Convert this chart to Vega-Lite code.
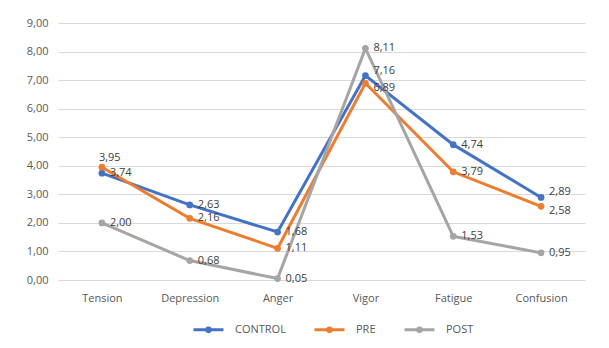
{
  "$schema": "https://vega.github.io/schema/vega-lite/v6.json",
  "width": 527,
  "height": 257,
  "autosize": {"type": "none"},
  "padding": {"left": 58, "top": 23, "right": 24, "bottom": 68},
  "background": "white",
  "config": {
    "font": "Open Sans",
    "view": {"stroke": null},
    "axis": {"labelColor": "#595959", "labelFontSize": 11, "titleColor": "#595959"}
  },
  "data": {
    "values": [
      {"cat": "Tension", "series": "CONTROL", "value": 3.74},
      {"cat": "Depression", "series": "CONTROL", "value": 2.63},
      {"cat": "Anger", "series": "CONTROL", "value": 1.68},
      {"cat": "Vigor", "series": "CONTROL", "value": 7.16},
      {"cat": "Fatigue", "series": "CONTROL", "value": 4.74},
      {"cat": "Confusion", "series": "CONTROL", "value": 2.89},
      {"cat": "Tension", "series": "PRE", "value": 3.95},
      {"cat": "Depression", "series": "PRE", "value": 2.16},
      {"cat": "Anger", "series": "PRE", "value": 1.11},
      {"cat": "Vigor", "series": "PRE", "value": 6.89},
      {"cat": "Fatigue", "series": "PRE", "value": 3.79},
      {"cat": "Confusion", "series": "PRE", "value": 2.58},
      {"cat": "Tension", "series": "POST", "value": 2.00},
      {"cat": "Depression", "series": "POST", "value": 0.68},
      {"cat": "Anger", "series": "POST", "value": 0.05},
      {"cat": "Vigor", "series": "POST", "value": 8.11},
      {"cat": "Fatigue", "series": "POST", "value": 1.53},
      {"cat": "Confusion", "series": "POST", "value": 0.95}
    ]
  },
  "transform": [
    {"calculate": "replace(format(datum.value, '.2f'), '.', ',')", "as": "label"}
  ],
  "encoding": {
    "x": {
      "field": "cat", "type": "nominal",
      "sort": ["Tension", "Depression", "Anger", "Vigor", "Fatigue", "Confusion"],
      "scale": {"type": "point", "padding": 0.5},
      "axis": {"title": null, "labelAngle": 0, "ticks": false, "domain": false, "labelPadding": 12, "grid": false}
    },
    "y": {
      "field": "value", "type": "quantitative",
      "scale": {"domain": [0, 9], "nice": false},
      "axis": {"title": null, "values": [0,1,2,3,4,5,6,7,8,9], "ticks": false, "domain": false,
        "gridColor": "#D9D9D9", "labelPadding": 10, "labelOverlap": false, "labelFlush": false,
        "labelExpr": "replace(format(datum.value, '.2f'), '.', ',')"}
    },
    "color": {
      "field": "series", "type": "nominal",
      "scale": {"domain": ["CONTROL", "PRE", "POST"], "range": ["#4472C4", "#ED7D31", "#A5A5A5"]},
      "legend": {
        "title": null, "orient": "none", "legendX": 134, "legendY": 290, "direction": "horizontal",
        "labelColor": "#595959", "labelFontSize": 11, "columnPadding": 22, "labelOffset": 10,
        "symbolType": "M -1 0 L 1 0 M 0.12 0 A 0.12 0.12 0 1 1 -0.12 0 A 0.12 0.12 0 1 1 0.12 0 Z",
        "symbolSize": 900, "symbolStrokeWidth": 3,
        "encode": {"symbols": {"update": {"fill": {"scale": "color", "field": "value"}}}}
      }
    }
  },
  "layer": [
    {"mark": {"type": "line", "strokeWidth": 3, "point": {"filled": true, "size": 45}}},
    {"transform": [{"filter": "!((datum.series == 'PRE' && (datum.cat == 'Tension' || datum.cat == 'Vigor' || datum.cat == 'Confusion')) || (datum.series == 'CONTROL' && (datum.cat == 'Confusion' || datum.cat == 'Vigor')))"}],
     "mark": {"type": "text", "align": "left", "dx": 8, "dy": 0, "fontSize": 11},
     "encoding": {"text": {"field": "label"}, "color": {"value": "#404040"}}},
    {"transform": [{"filter": "datum.series == 'PRE' && datum.cat == 'Tension'"}],
     "mark": {"type": "text", "align": "left", "dx": -3, "dy": -9, "fontSize": 11},
     "encoding": {"text": {"field": "label"}, "color": {"value": "#404040"}}},
    {"transform": [{"filter": "datum.series == 'CONTROL' && (datum.cat == 'Confusion' || datum.cat == 'Vigor')"}],
     "mark": {"type": "text", "align": "left", "dx": 8, "dy": -5, "fontSize": 11},
     "encoding": {"text": {"field": "label"}, "color": {"value": "#404040"}}},
    {"transform": [{"filter": "datum.series == 'PRE' && (datum.cat == 'Vigor' || datum.cat == 'Confusion')"}],
     "mark": {"type": "text", "align": "left", "dx": 8, "dy": 5, "fontSize": 11},
     "encoding": {"text": {"field": "label"}, "color": {"value": "#404040"}}}
  ]
}
